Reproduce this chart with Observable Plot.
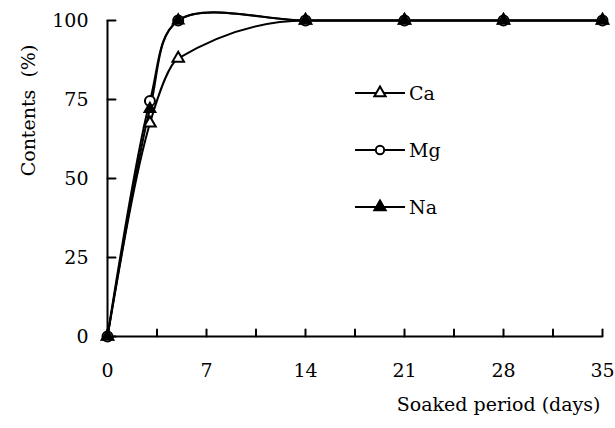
<!DOCTYPE html>
<html>
<head>
<meta charset="utf-8">
<script src="https://cdn.jsdelivr.net/npm/d3@7"></script>
<script src="https://cdn.jsdelivr.net/npm/@observablehq/plot@0.6"></script>
<style>
  html, body { margin: 0; padding: 0; background: #fff; }
  #wrap { position: relative; width: 615px; height: 428px; }
  #wrap svg { font-family: "DejaVu Serif", serif; }
  #legend { position: absolute; left: 0; top: 0; }
</style>
</head>
<body>
<div id="wrap"></div>
<script>
// Data
const days = [0, 3, 5, 14, 21, 28, 35];
const ca = [0, 67.5, 88, 100, 100, 100, 100];
const mg = [0, 74.5, 100, 100, 100, 100, 100];
const na = [0, 72, 100, 100, 100, 100, 100];
const seriesNames = ["Ca", "Mg", "Na"];
const xTickLabels = [0, 7, 14, 21, 28, 35];
const xTicksAll = [0, 3.5, 7, 10.5, 14, 17.5, 21, 24.5, 28, 31.5, 35];
const yTickLabels = [0, 25, 50, 75, 100];
const xLabel = "Soaked period (days)";
const yLabel = "Contents\u00a0\u00a0(%)";

const toRows = (vals, name) => days.map((d, i) => ({day: d, value: vals[i], series: name}));
const caRows = toRows(ca, "Ca");
const mgRows = toRows(mg, "Mg");
const naRows = toRows(na, "Na");

const tickShape = {draw(context, l) { context.moveTo(0, 0); context.lineTo(0, -l); }};

const chart = Plot.plot({
  width: 615,
  height: 428,
  marginLeft: 107,
  marginRight: 13,
  marginTop: 20,
  marginBottom: 92,
  style: {fontFamily: "DejaVu Serif, serif", fontSize: "19px", color: "#000", background: "#fff"},
  x: {domain: [0, 35]},
  y: {domain: [0, 100]},
  marks: [
    // axis lines
    Plot.ruleY([0], {stroke: "#000", strokeWidth: 2}),
    Plot.ruleX([0], {stroke: "#000", strokeWidth: 2, y1: 0, y2: 100}),
    // inward ticks
    Plot.vector(xTicksAll, {x: d => d, y: 0, length: 7, rotate: 0, anchor: "start", shape: tickShape, stroke: "#000", strokeWidth: 2}),
    Plot.vector(yTickLabels, {x: 0, y: d => d, length: 8, rotate: 90, anchor: "start", shape: tickShape, stroke: "#000", strokeWidth: 2}),
    Plot.axisX({ticks: xTickLabels, tickSize: 0, tickPadding: 27, label: null, fontSize: 19, tickFormat: d => String(d)}),
    Plot.axisY({ticks: yTickLabels, tickSize: 0, tickPadding: 19, label: null, fontSize: 19, tickFormat: d => String(d)}),
    // axis titles
    Plot.text([xLabel], {frameAnchor: "bottom-right", dy: 74, dx: -2, textAnchor: "end", fontSize: 19, fill: "#000"}),
    Plot.text([yLabel], {frameAnchor: "top-left", dx: -86, dy: 90, rotate: -90, textAnchor: "middle", fontSize: 19, fill: "#000"}),
    // lines
    Plot.line(caRows, {x: "day", y: "value", curve: "monotone-x", stroke: "#000", strokeWidth: 2}),
    Plot.line(mgRows, {x: "day", y: "value", curve: "catmull-rom", stroke: "#000", strokeWidth: 2}),
    Plot.line(naRows, {x: "day", y: "value", curve: "catmull-rom", stroke: "#000", strokeWidth: 2}),
    // markers
    Plot.dot(caRows, {x: "day", y: "value", symbol: "triangle", r: 4.3, fill: "#fff", stroke: "#000", strokeWidth: 2}),
    Plot.dot(mgRows, {x: "day", y: "value", symbol: "circle", r: 5, fill: "#fff", stroke: "#000", strokeWidth: 2}),
    Plot.dot(naRows, {x: "day", y: "value", symbol: "triangle", r: 4.3, fill: "#000", stroke: "#000", strokeWidth: 1.5})
  ]
});
document.getElementById("wrap").appendChild(chart);

// Legend overlay
const legendSpec = [
  {name: seriesNames[0], symbol: d3.symbolTriangle, fill: "#fff"},
  {name: seriesNames[1], symbol: d3.symbolCircle, fill: "#fff"},
  {name: seriesNames[2], symbol: d3.symbolTriangle, fill: "#000"}
];
const lg = d3.select("#wrap").append("svg").attr("id", "legend")
  .attr("width", 615).attr("height", 428)
  .style("font-family", "DejaVu Serif, serif").style("font-size", "19px");
legendSpec.forEach((s, i) => {
  const y = 93 + i * 57;
  const g = lg.append("g").attr("transform", `translate(0,${y})`);
  g.append("line").attr("x1", 355).attr("x2", 405).attr("y1", 0).attr("y2", 0).attr("stroke", "#000").attr("stroke-width", 2);
  g.append("path").attr("d", d3.symbol(s.symbol, 55)()).attr("transform", "translate(380,0)")
    .attr("fill", s.fill).attr("stroke", "#000").attr("stroke-width", 2);
  g.append("text").attr("x", 409).attr("y", 0).attr("dy", "0.35em").attr("fill", "#000").text(s.name);
});
</script>
</body>
</html>
